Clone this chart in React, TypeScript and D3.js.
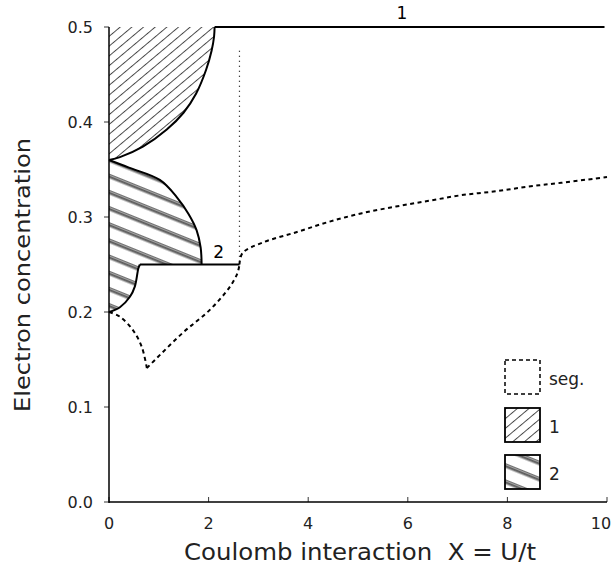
import React from 'react';
import * as d3 from 'd3';

// phase region 1 boundary (curve from x=0 up to the top line)
const region1X = [0, 0.22, 0.68, 1.16, 1.5, 1.75, 1.95, 2.06, 2.11, 2.12];
const region1Y = [0.36, 0.363, 0.374, 0.392, 0.41, 0.43, 0.455, 0.475, 0.49, 0.5];

// phase region 2: upper arc and lower arc
const region2UpperX = [0, 0.4, 1.02, 1.36, 1.6, 1.76, 1.84, 1.86];
const region2UpperY = [0.36, 0.352, 0.339, 0.321, 0.303, 0.286, 0.268, 0.25];
const region2LowerX = [0.62, 0.59, 0.52, 0.42, 0.22, 0];
const region2LowerY = [0.25, 0.246, 0.227, 0.216, 0.205, 0.2];

// segregation boundary (dashed)
const segLeftX = [0, 0.22, 0.48, 0.66, 0.76];
const segLeftY = [0.2, 0.195, 0.181, 0.163, 0.141];
const segRightX = [0.76, 1.48, 2.02, 2.42, 2.58, 2.62];
const segRightY = [0.141, 0.178, 0.202, 0.226, 0.241, 0.25];
const segUpperX = [2.62, 2.68, 3.08, 3.76, 4.42, 5.08, 5.76, 6.42, 7.08, 7.76, 8.42, 9.08, 10];
const segUpperY = [0.25, 0.262, 0.273, 0.284, 0.295, 0.304, 0.311, 0.317, 0.323, 0.327, 0.332, 0.336, 0.342];

const topLineX = [2.12, 9.95];
const topLineY = [0.5, 0.5];
const quarterLineX = [0.62, 2.62];
const quarterLineY = [0.25, 0.25];
const dottedX = [2.62, 2.62];
const dottedY = [0.475, 0.25];

const xTicks = [0, 2, 4, 6, 8, 10];
const yTicks = [0, 0.1, 0.2, 0.3, 0.4, 0.5];
const legendLabels = ['seg.', '1', '2'];

const W = 613, H = 573;
const FONT = '"DejaVu Sans", Verdana, sans-serif';

const zip = (xs: number[], ys: number[]) => xs.map((x, i) => [x, ys[i]] as [number, number]);

export default function App() {
  const x = d3.scaleLinear().domain([0, 10]).range([109, 607]);
  const y = d3.scaleLinear().domain([0, 0.5]).range([502, 27]);

  const curve = d3.line<[number, number]>().x((d) => x(d[0])).y((d) => y(d[1])).curve(d3.curveCatmullRom.alpha(0.5));
  const straight = d3.line<[number, number]>().x((d) => x(d[0])).y((d) => y(d[1]));

  const r1 = zip(region1X, region1Y);
  const r1Path = `${curve(r1)}L${x(0)},${y(0.5)}Z`;

  const r2u = zip(region2UpperX, region2UpperY);
  const r2l = zip(region2LowerX, region2LowerY);
  const r2Path = `${curve(r2u)}L${x(region2LowerX[0])},${y(region2LowerY[0])}${curve(r2l)!.replace(/^M/, 'L')}Z`;

  const legendX = 505, legendW = 35, legendH = 34;
  const legendY = [360, 408, 455];
  const legendFill = ['none', 'url(#hatch1)', 'url(#hatch2)'];

  return (
    <svg width={W} height={H} style={{ position: 'absolute', left: 0, top: 0, background: '#fff' }} fontFamily={FONT}>
      <defs>
        <pattern id="hatch1" patternUnits="userSpaceOnUse" width={7.5} height={7.5} patternTransform="rotate(50)">
          <line x1={0.5} y1={0} x2={0.5} y2={7.5} stroke="#000" strokeWidth={0.7} />
        </pattern>
        <pattern id="hatch2" patternUnits="userSpaceOnUse" width={15} height={15} patternTransform="rotate(22)">
          {[0.8, 2.3, 3.8].map((v) => (
            <line key={v} x1={0} y1={v} x2={15} y2={v} stroke="#000" strokeWidth={0.8} />
          ))}
        </pattern>
      </defs>

      {/* hatched regions */}
      <path d={r1Path} fill="url(#hatch1)" stroke="none" />
      <path d={r2Path} fill="url(#hatch2)" stroke="none" />
      <path d={curve(r1)!} fill="none" stroke="#000" strokeWidth={2} />
      <path d={curve(r2u)!} fill="none" stroke="#000" strokeWidth={2} />
      <path d={curve(r2l)!} fill="none" stroke="#000" strokeWidth={2} />

      {/* solid boundaries */}
      <path d={straight(zip(topLineX, topLineY))!} fill="none" stroke="#000" strokeWidth={2} />
      <path d={straight(zip(quarterLineX, quarterLineY))!} fill="none" stroke="#000" strokeWidth={2} />
      <path d={straight(zip(dottedX, dottedY))!} fill="none" stroke="#000" strokeWidth={1.2} strokeDasharray="1,4" />

      {/* segregation */}
      {[zip(segLeftX, segLeftY), zip(segRightX, segRightY), zip(segUpperX, segUpperY)].map((pts, i) => (
        <path key={i} d={curve(pts)!} fill="none" stroke="#000" strokeWidth={2} strokeDasharray="4,3.5" />
      ))}

      <text x={x(5.88)} y={y(0.5) - 8} fontSize={17} textAnchor="middle">1</text>
      <text x={x(2.2)} y={y(0.25) - 7} fontSize={17} textAnchor="middle">2</text>

      {/* axes */}
      <line x1={x(0)} x2={x(0)} y1={y(0.5)} y2={y(0) + 1} stroke="#000" strokeWidth={1.5} />
      <line x1={x(0)} x2={x(10)} y1={y(0)} y2={y(0)} stroke="#000" strokeWidth={1.5} />
      {yTicks.map((t) => (
        <g key={t}>
          <line x1={x(0) - 5} x2={x(0)} y1={y(t)} y2={y(t)} stroke="#000" strokeWidth={0.8} />
          <text x={x(0) - 16} y={y(t)} dy="0.36em" fontSize={16} textAnchor="end" fill="#222">{t.toFixed(1)}</text>
        </g>
      ))}
      {xTicks.map((t) => (
        <g key={t}>
          <line x1={x(t)} x2={x(t)} y1={y(0) - 5} y2={y(0)} stroke="#000" strokeWidth={0.8} />
          <text x={Math.min(x(t), W - 12)} y={y(0) + 27} fontSize={16} textAnchor="middle" fill="#222">{t}</text>
        </g>
      ))}
      <text x={360} y={560} fontSize={23} textAnchor="middle" fill="#222" textLength={352} lengthAdjust="spacingAndGlyphs"
        style={{ whiteSpace: 'pre' }}>
        Coulomb interaction  X = U/t
      </text>
      <text transform="translate(30,275) rotate(-90)" fontSize={22} textAnchor="middle" fill="#222" textLength={274}
        lengthAdjust="spacingAndGlyphs">
        Electron concentration
      </text>

      {/* legend */}
      {legendLabels.map((lab, i) => (
        <g key={lab}>
          <rect x={legendX} y={legendY[i]} width={legendW} height={legendH} fill={legendFill[i]} stroke="#000"
            strokeWidth={i === 0 ? 1.5 : 1.8} strokeDasharray={i === 0 ? '4,3' : undefined} />
          <text x={legendX + legendW + 9} y={legendY[i] + 25} fontSize={17} fill="#222">{lab}</text>
        </g>
      ))}
    </svg>
  );
}
